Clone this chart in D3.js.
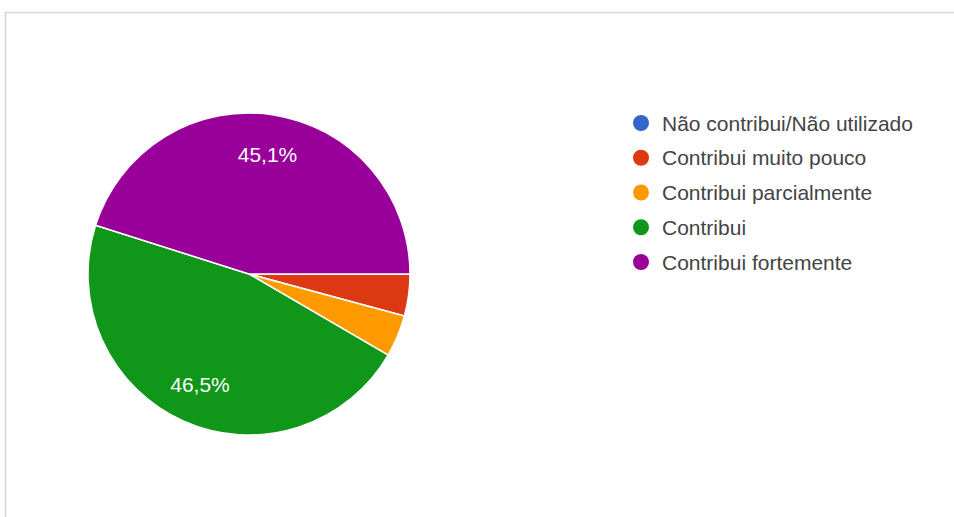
<!DOCTYPE html>
<html>
<head>
<meta charset="utf-8">
<script src="https://cdn.jsdelivr.net/npm/d3@7/dist/d3.min.js"></script>
<style>
  html, body { margin: 0; padding: 0; background: #fff; }
  svg { display: block; }
</style>
</head>
<body>
<svg id="chart" width="954" height="517"></svg>
<script>
// Answer categories and their share of responses (%)
const categories = [
  "Não contribui/Não utilizado",
  "Contribui muito pouco",
  "Contribui parcialmente",
  "Contribui",
  "Contribui fortemente"
];
const values = [0, 4.2, 4.2, 46.5, 45.1];
const sliceLabels = ["", "", "", "46,5%", "45,1%"];
const colors = ["#3366cc", "#dc3912", "#ff9900", "#109618", "#990099"];

const svg = d3.select("#chart");
const W = 954, H = 517;

// card frame: top and left edges
svg.append("path")
  .attr("d", `M5.5,${H} V12.5 H${W}`)
  .attr("fill", "none")
  .attr("stroke", "#d6d6d6")
  .attr("stroke-width", 1.6);

const cx = 249, cy = 274, R = 161;

const data = categories.map((c, i) => ({ name: c, value: values[i], label: sliceLabels[i], color: colors[i] }));

const pie = d3.pie()
  .value(d => d.value)
  .sort(null)
  .startAngle(Math.PI / 2)
  .endAngle(Math.PI / 2 + 2 * Math.PI);

const arc = d3.arc().innerRadius(0).outerRadius(R);
const labelArc = d3.arc().innerRadius(R * 0.75).outerRadius(R * 0.75);

const g = svg.append("g").attr("transform", `translate(${cx},${cy})`);
const arcs = pie(data);

g.selectAll("path.slice")
  .data(arcs.filter(d => d.data.value > 0))
  .join("path")
  .attr("class", "slice")
  .attr("d", arc)
  .attr("fill", d => d.data.color)
  .attr("stroke", "#fff")
  .attr("stroke-width", 1.5)
  .attr("stroke-linejoin", "round");

g.selectAll("text.pct")
  .data(arcs.filter(d => d.data.label))
  .join("text")
  .attr("class", "pct")
  .attr("transform", d => `translate(${labelArc.centroid(d)})`)
  .attr("text-anchor", "middle")
  .attr("dy", "0.36em")
  .attr("fill", "#fff")
  .style("font-family", "'Liberation Sans', Arial, sans-serif")
  .style("font-size", "21px")
  .text(d => d.data.label);

// legend
const legendY = d3.scalePoint().domain(categories).range([123, 262]);
const lg = svg.append("g");
const rows = lg.selectAll("g.row").data(data).join("g")
  .attr("class", "row")
  .attr("transform", d => `translate(641,${legendY(d.name)})`);
rows.append("circle").attr("r", 8).attr("fill", d => d.color);
rows.append("text")
  .attr("x", 21)
  .attr("dy", "0.36em")
  .attr("fill", "#444")
  .style("font-family", "'Liberation Sans', Arial, sans-serif")
  .style("font-size", "21px")
  .text(d => d.name);
</script>
</body>
</html>
